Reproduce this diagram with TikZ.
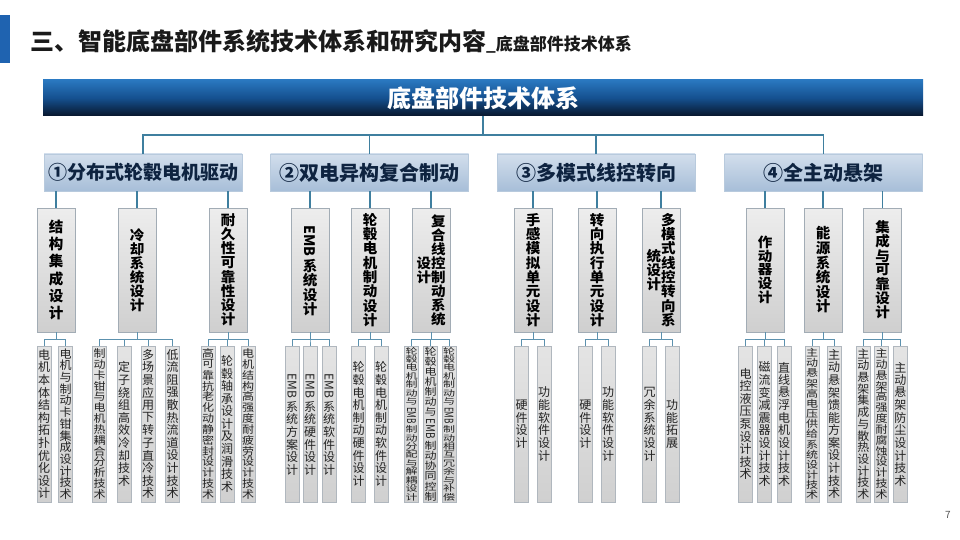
\documentclass[tikz,border=0pt]{standalone}
\usepackage{fontspec}
\setmainfont{Noto Sans CJK SC}
\usepackage{graphicx}
\usepackage{xcolor}
\definecolor{barblue}{HTML}{1F63B0}
\definecolor{titlec}{HTML}{1A1A1A}
\definecolor{bantop}{HTML}{2A78C0}
\definecolor{banmid}{HTML}{15508F}
\definecolor{banbot}{HTML}{08162C}
\definecolor{conn}{HTML}{3F7F9F}
\definecolor{conn2}{HTML}{5C91AE}
\definecolor{cattop}{HTML}{D2DEEC}
\definecolor{catbot}{HTML}{A7BED8}
\definecolor{catdraw}{HTML}{B8CADD}
\definecolor{cattext}{HTML}{0E2340}
\definecolor{ltop}{HTML}{EDEDED}
\definecolor{lbot}{HTML}{CFCFCF}
\definecolor{ldraw}{HTML}{A2ACB5}
\definecolor{l3top}{HTML}{E4E4E4}
\definecolor{l3bot}{HTML}{D0D0D0}
\definecolor{l3draw}{HTML}{B0B7BE}
\definecolor{l3text}{HTML}{222222}
\definecolor{pgc}{HTML}{555555}
\def\EMB{EMB}
\ExplSyntaxOn
\dim_new:N \l_vs_s_dim
\dim_new:N \l_vs_fs_dim
\dim_new:N \l_vs_e_dim
\fp_new:N \l_vs_r_fp
\int_new:N \l_vs_n_int
\box_new:N \l_vs_emb_box
\cs_new_protected:Npn \vs_item:n #1
  {
    \tl_if_eq:nnTF {#1} { \EMB }
      {
        \hbox_set:Nn \l_vs_emb_box { EMB }
        \dim_set:Nn \l_vs_e_dim { \fp_to_dim:n { \l_vs_r_fp * \box_wd:N \l_vs_emb_box } + 0.3\l_vs_s_dim }
        \vbox_to_ht:nn { \l_vs_e_dim }
          {
            \vss
            \hbox_to_wd:nn { \l_vs_fs_dim } { \hss \rotatebox{-90}{ \scalebox{ \fp_use:N \l_vs_r_fp }[1]{ EMB } } \hss }
            \vss
          }
      }
      {
        \vbox_to_ht:nn { \l_vs_s_dim }
          {
            \vss
            \hbox_to_wd:nn { \l_vs_fs_dim } { \hss \scalebox{1}[ \fp_use:N \l_vs_r_fp ]{ #1 } \hss }
            \vss
          }
      }
  }
\NewDocumentCommand \vstack { m m m m }
  {
    \group_begin:
    \fontsize{#1}{#1}\selectfont
    \dim_set:Nn \l_vs_fs_dim {#1}
    \int_set:Nn \l_vs_n_int { \tl_count:n {#4} }
    \tl_if_in:nnT {#4} { \EMB } { \int_incr:N \l_vs_n_int }
    \dim_set:Nn \l_vs_s_dim { \dim_min:nn {#2} { (#3) / \l_vs_n_int } }
    \fp_set:Nn \l_vs_r_fp { min(1, \l_vs_s_dim / (1.02 * \l_vs_fs_dim)) }
    \vbox:n { \offinterlineskip \tl_map_function:nN {#4} \vs_item:n }
    \group_end:
  }
\ExplSyntaxOff
\newcommand\ltwo[4]{\node[l2] (#1) at (#2,270) {\vstack{14.5pt}{#3}{118pt}{#4}};}
\newcommand\ltwocol[5]{\node[l2] (#1) at (#2,270) {$\vcenter{\hbox{\vstack{14.5pt}{#3}{118pt}{#4}}}\vcenter{\hbox{\vstack{14.5pt}{#3}{118pt}{#5}}}$};}
\newcommand\lthr[3]{\node[l3] (#1) at (#2,424) {\vstack{12pt}{12.6pt}{152pt}{#3}};}
\newcommand\lkk[2]{\draw[lk] (#1.south) -- (#1.south |- yl) -| (#2.north);}
\newcommand\ckk[2]{\draw[ck] (#2.north |- #1.south) -- (#2.north);}
\begin{document}
\begin{tikzpicture}[x=1pt,y=-1pt,
  l2/.style={draw=ldraw, line width=0.6pt, top color=ltop, bottom color=lbot, minimum width=38pt, minimum height=124pt, inner sep=0pt, font=\bfseries, text=black},
  l3/.style={draw=l3draw, line width=0.5pt, top color=l3top, bottom color=l3bot, minimum width=14pt, minimum height=156pt, inner sep=0pt, text=l3text},
  cat/.style={draw=catdraw, line width=0.6pt, top color=cattop, bottom color=catbot, minimum width=198pt, minimum height=37pt, inner sep=0pt, text=cattext, font=\bfseries\fontsize{20}{24}\selectfont},
  mk/.style={draw=conn, line width=1.3pt},
  ck/.style={draw=conn, line width=1.1pt},
  lk/.style={draw=conn2, line width=0.9pt}]
\useasboundingbox (0,0) rectangle (960,540);
\fill[white] (0,0) rectangle (960,540);
\fill[barblue] (0,15) rectangle (10,63);
\node[anchor=base west, inner sep=0pt, text=titlec, font=\bfseries\fontsize{24}{28}\selectfont] (title) at (30,51)
  {三、智能底盘部件系统技术体系和研究内容{\fontsize{17}{20}\selectfont\_底盘部件技术体系}};
\node[minimum width=880pt, minimum height=36pt, inner sep=0pt, top color=bantop, bottom color=banbot, middle color=banmid, text=white, font=\bfseries\fontsize{24}{28}\selectfont] (ban) at (483,98) {底盘部件技术体系};
\coordinate (ym) at (0,135);
\coordinate (yl) at (0,339);
% categories
\node[cat, font=\bfseries\fontsize{19}{24}\selectfont] (c1) at (143,172.5) {①分布式轮毂电机驱动};
\node[cat] (c2) at (369.5,172.5) {②双电异构复合制动};
\node[cat] (c3) at (596,172.5) {③多模式线控转向};
\node[cat] (c4) at (823.5,172.5) {④全主动悬架};
\foreach \c in {c1,c2,c3,c4} \draw[mk] (ban.south) -- (ban.south |- ym) -| (\c.north);
% level 2
\ltwo{A1}{56}{17.4pt}{结构集成设计}
\ltwo{A2}{137}{14pt}{冷却系统设计}
\ltwo{A3}{228}{14.2pt}{耐久性可靠性设计}
\ltwo{B1}{310}{14.4pt}{\EMB 系统设计}
\ltwo{B2}{370}{14.4pt}{轮毂电机制动设计}
\ltwocol{B3}{431}{14pt}{设计}{复合线控制动系统}
\ltwo{C1}{533}{14.3pt}{手感模拟单元设计}
\ltwo{C2}{597}{14.3pt}{转向执行单元设计}
\ltwocol{C3}{661}{14.3pt}{统设计}{多模式线控转向系}
\ltwo{D1}{765}{13.8pt}{作动器设计}
\ltwo{D2}{823}{14.6pt}{能源系统设计}
\ltwo{D3}{882.5}{14.2pt}{集成与可靠设计}
\ckk{c1}{A1}\ckk{c1}{A2}\ckk{c1}{A3}
\ckk{c2}{B1}\ckk{c2}{B2}\ckk{c2}{B3}
\ckk{c3}{C1}\ckk{c3}{C2}\ckk{c3}{C3}
\ckk{c4}{D1}\ckk{c4}{D2}\ckk{c4}{D3}
% level 3
\lthr{a11}{44}{电机本体结构拓扑优化设计}
\lthr{a12}{65.5}{电机与制动卡钳集成设计技术}
\lthr{a21}{99.5}{制动卡钳与电机热耦合分析技术}
\lthr{a22}{124}{定子绕组高效冷却技术}
\lthr{a23}{148}{多场景应用下转子直冷技术}
\lthr{a24}{172.5}{低流阻强散热流道设计技术}
\lthr{a31}{208}{高可靠抗老化动静密封设计技术}
\lthr{a32}{227}{轮毂轴承设计及润滑技术}
\lthr{a33}{248}{电机结构高强度耐疲劳设计技术}
\lthr{b11}{292}{\EMB 系统方案设计}
\lthr{b12}{310}{\EMB 系统硬件设计}
\lthr{b13}{329}{\EMB 系统软件设计}
\lthr{b21}{358.7}{轮毂电机制动硬件设计}
\lthr{b22}{381}{轮毂电机制动软件设计}
\lthr{b31}{411.5}{轮毂电机制动与\EMB 制动分配与解耦设计}
\lthr{b32}{430.5}{轮毂电机制动与\EMB 制动协同控制}
\lthr{b33}{449}{轮毂电机制动与\EMB 制动相互冗余与补偿}
\lthr{c11}{521.5}{硬件设计}
\lthr{c12}{544}{功能软件设计}
\lthr{c21}{585.3}{硬件设计}
\lthr{c22}{608}{功能软件设计}
\lthr{c31}{649.7}{冗余系统设计}
\lthr{c32}{672}{功能拓展}
\lthr{d11}{745.5}{电控液压泵设计技术}
\lthr{d12}{764.5}{磁流变减震器设计技术}
\lthr{d13}{784}{直线悬浮电机设计技术}
\lthr{d21}{812}{主动悬架高电压供给系统设计技术}
\lthr{d22}{834}{主动悬架馈能方案设计技术}
\lthr{d31}{863.3}{主动悬架集成与散热设计技术}
\lthr{d32}{881.5}{主动悬架高强度耐腐蚀设计技术}
\lthr{d33}{900.3}{主动悬架防尘设计技术}
\lkk{A1}{a11}\lkk{A1}{a12}
\lkk{A2}{a21}\lkk{A2}{a22}\lkk{A2}{a23}\lkk{A2}{a24}
\lkk{A3}{a31}\lkk{A3}{a32}\lkk{A3}{a33}
\lkk{B1}{b11}\lkk{B1}{b12}\lkk{B1}{b13}
\lkk{B2}{b21}\lkk{B2}{b22}
\lkk{B3}{b31}\lkk{B3}{b32}\lkk{B3}{b33}
\lkk{C1}{c11}\lkk{C1}{c12}
\lkk{C2}{c21}\lkk{C2}{c22}
\lkk{C3}{c31}\lkk{C3}{c32}
\lkk{D1}{d11}\lkk{D1}{d12}\lkk{D1}{d13}
\lkk{D2}{d21}\lkk{D2}{d22}
\lkk{D3}{d31}\lkk{D3}{d32}\lkk{D3}{d33}
\node[text=pgc, font=\fontsize{10}{12}\selectfont, inner sep=0pt] (pg) at (948,515) {7};
\end{tikzpicture}
\end{document}
